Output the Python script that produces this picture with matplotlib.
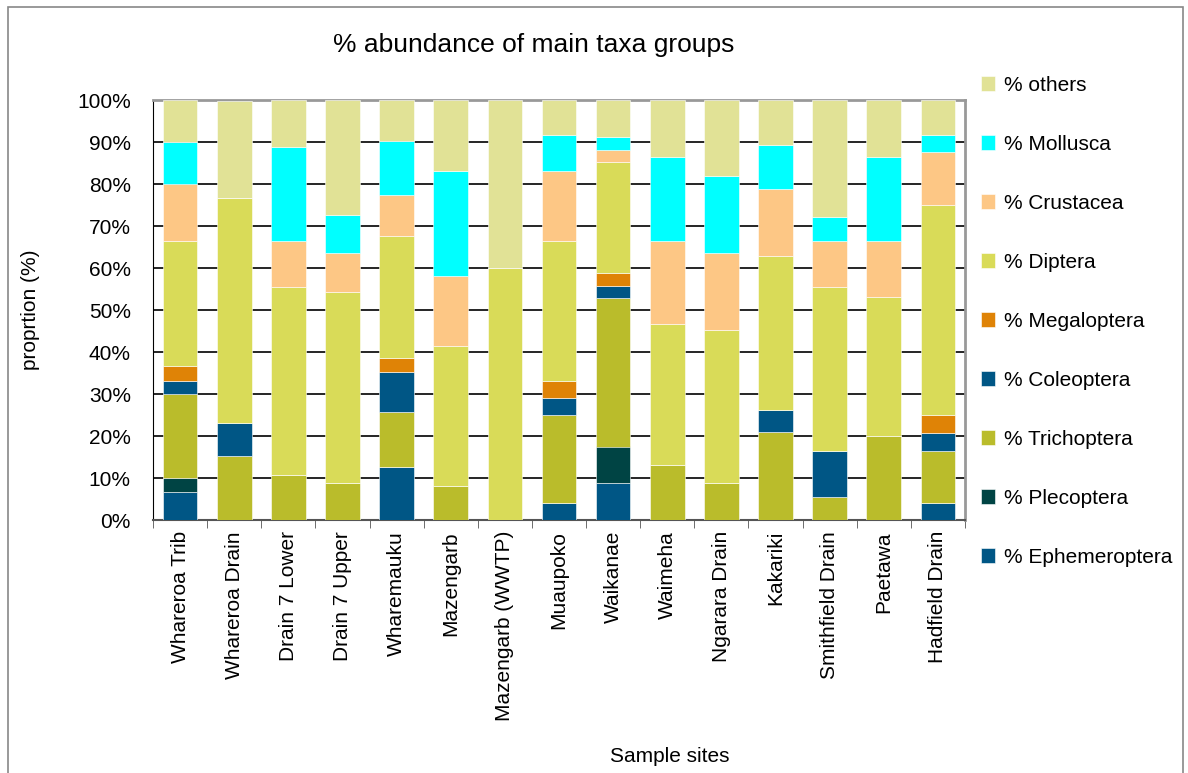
import matplotlib
matplotlib.use('Agg')
import matplotlib.pyplot as plt
from matplotlib.patches import Rectangle
import numpy as np

plt.rcParams['font.family'] = ['Liberation Sans', 'DejaVu Sans']

sites = ['Whareroa Trib', 'Whareroa Drain', 'Drain 7 Lower', 'Drain 7 Upper',
         'Wharemauku', 'Mazengarb', 'Mazengarb (WWTP)', 'Muaupoko', 'Waikanae',
         'Waimeha', 'Ngarara Drain', 'Kakariki', 'Smithfield Drain', 'Paetawa',
         'Hadfield Drain']

# percentages per site, bottom to top
ephemeroptera = [6.7, 0, 0, 0, 12.7, 0, 0, 4.0, 8.8, 0, 0, 0, 0, 0, 4.0]
plecoptera    = [3.2, 0, 0, 0, 0, 0, 0, 0, 8.7, 0, 0, 0, 0, 0, 0]
trichoptera   = [20.1, 15.2, 10.8, 8.9, 13.0, 8.2, 0, 20.9, 35.4, 13.2, 8.9, 20.9, 5.4, 19.9, 12.5]
coleoptera    = [3.1, 7.8, 0, 0, 9.6, 0, 0, 4.1, 2.9, 0, 0, 5.2, 11.1, 0, 4.2]
megaloptera   = [3.5, 0, 0, 0, 3.3, 0, 0, 4.1, 2.9, 0, 0, 0, 0, 0, 4.2]
diptera       = [29.9, 53.6, 44.7, 45.5, 29.0, 33.2, 60.0, 33.4, 26.5, 33.4, 36.4, 36.8, 39.0, 33.2, 50.0]
crustacea     = [13.4, 0, 11.0, 9.2, 9.8, 16.8, 0, 16.7, 3.0, 19.9, 18.3, 16.0, 11.0, 13.4, 12.7]
mollusca      = [10.1, 0, 22.3, 9.1, 12.8, 25.0, 0, 8.4, 2.9, 20.0, 18.2, 10.5, 5.7, 20.0, 4.0]
others        = [10.0, 23.2, 11.2, 27.3, 9.8, 16.8, 40.0, 8.4, 8.9, 13.5, 18.2, 10.6, 27.8, 13.5, 8.4]

series = [('% Ephemeroptera', ephemeroptera, '#005685'),
          ('% Plecoptera', plecoptera, '#004444'),
          ('% Trichoptera', trichoptera, '#BABC2B'),
          ('% Coleoptera', coleoptera, '#005685'),
          ('% Megaloptera', megaloptera, '#DF8306'),
          ('% Diptera', diptera, '#D9DB58'),
          ('% Crustacea', crustacea, '#FDC785'),
          ('% Mollusca', mollusca, '#00FFFF'),
          ('% others', others, '#E1E296')]

fig = plt.figure(figsize=(11.88, 7.73), dpi=100)
ax = fig.add_axes([153/1188, 1 - 520/773, 812/1188, 420/773])

x = np.arange(len(sites))
bottom = np.zeros(len(sites))
handles = []
for name, vals, col in series:
    v = np.array(vals, dtype=float)
    b = ax.bar(x, v, 0.64, bottom=bottom, color=col, label=name,
               edgecolor='white', linewidth=0.4, zorder=3)
    handles.append(b)
    bottom += v

ax.set_xlim(-0.5, len(sites) - 0.5)
ax.set_ylim(0, 100)
ax.set_yticks(np.arange(0, 101, 10))
ax.set_yticklabels(['%d%%' % t for t in range(0, 101, 10)], fontsize=15)
ax.yaxis.grid(True, color='black', linewidth=1.2, zorder=0)
ax.set_xticks(x)
ax.set_xticklabels(sites, rotation=90, fontsize=15)
ax.set_xticks(np.arange(-0.5, len(sites), 1), minor=True)
ax.tick_params(axis='x', which='major', length=0, pad=8)
ax.tick_params(axis='x', which='minor', length=6, color='#555555', direction='out')
ax.tick_params(axis='y', length=0, pad=16)
for s in ['top', 'right']:
    ax.spines[s].set_color('#999999')
    ax.spines[s].set_linewidth(2)
ax.spines['left'].set_color('black')
ax.spines['bottom'].set_color('#555555')
ax.spines['bottom'].set_linewidth(1.5)

fig.text(30/1188, 1 - 310/773, 'proprtion (%)', fontsize=15, rotation=90,
         ha='center', va='center')
fig.text(670/1188, 1 - 757/773, 'Sample sites', fontsize=15, ha='center', va='center')
fig.text(534/1188, 1 - 45/773, '% abundance of main taxa groups', fontsize=19,
         ha='center', va='center')

fig.legend(handles[::-1], [s[0] for s in series][::-1], loc='upper left',
           bbox_to_anchor=(962/1188, 1 - 57/773), frameon=False, fontsize=15,
           handlelength=0.7, handleheight=0.7, handletextpad=0.4,
           labelspacing=1.92)

fig.patches.append(Rectangle((8/1188, -0.02), 1175/1188, 1.0 - 7/773 + 0.02,
                             transform=fig.transFigure, fill=False,
                             edgecolor='#888888', linewidth=1.2))

fig.savefig('out.png', dpi=100)
